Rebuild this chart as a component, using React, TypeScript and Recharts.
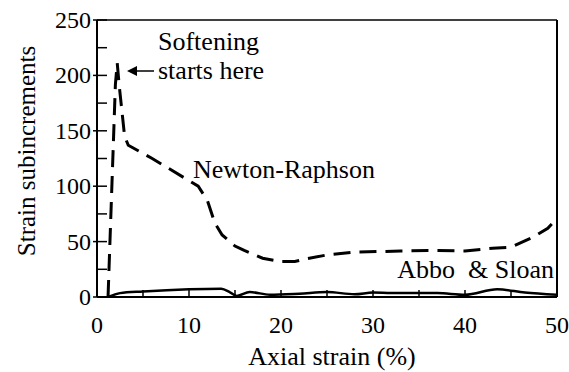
import React from 'react';
import { LineChart, Line, XAxis, YAxis, ReferenceLine } from 'recharts';

// Newton-Raphson (dashed)
const nrStrain = [1.2, 1.7, 2.0, 2.2, 2.4, 3.0, 3.4, 6.0, 10.0, 11.0, 12.0, 12.8, 13.6, 15.0, 16.0, 18.0, 20.0, 21.5, 22.5, 25.0, 28.0, 33.0, 36.0, 40.0, 43.0, 45.0, 47.4, 49.0, 50.0];
const nrIncrements = [0, 120, 192, 211, 192, 145, 137, 125, 105, 100, 87, 67, 56, 46, 42, 35, 32, 32, 34, 38, 40.5, 41.5, 42, 41.5, 44, 45, 54, 62, 71];

// Abbo & Sloan (solid)
const asStrain = [1.2, 2.5, 5.0, 10.0, 13.5, 14.5, 15.2, 16.6, 18.8, 22.0, 25.0, 28.0, 30.0, 32.0, 37.0, 40.0, 43.5, 46.5, 50.0];
const asIncrements = [0, 3.5, 5, 7, 7.5, 4, 1, 4.5, 2, 3, 4.5, 2.5, 4, 3.6, 3.5, 2, 7, 4, 2];

const yTicks = [0, 25, 50, 75, 100, 125, 150, 175, 200, 225, 250];
const xTicks = [0, 5, 10, 15, 20, 25, 30, 35, 40, 45, 50];

const nrData = nrStrain.map((x, i) => ({ x, y: nrIncrements[i] }));
const asData = asStrain.map((x, i) => ({ x, y: asIncrements[i] }));

const FONT = "'Liberation Serif', 'Times New Roman', serif";
const TICK_MARGIN = 5;
const serif = { fontFamily: FONT };

const YTick = (props: any) => {
  const { x, y, payload } = props;
  const ax = x + TICK_MARGIN;
  const major = payload.value % 50 === 0;
  return (
    <g>
      <line x1={major ? ax - 4 : ax} x2={ax + 10} y1={y} y2={y} stroke="#000" strokeWidth={1.5} />
      {major && (
        <text x={x - 1} y={y} dy={8} textAnchor="end" fontSize={24} style={serif} fill="#000">
          {payload.value}
        </text>
      )}
    </g>
  );
};

const XTick = (props: any) => {
  const { x, y, payload } = props;
  const ay = y - TICK_MARGIN;
  const major = payload.value % 10 === 0;
  return (
    <g>
      {payload.value > 0 && payload.value < 50 && (
        <line x1={x} x2={x} y1={ay} y2={ay - 7} stroke="#000" strokeWidth={1.5} />
      )}
      {major && (
        <text x={x} y={y + 31} textAnchor="middle" fontSize={24} style={serif} fill="#000">
          {payload.value}
        </text>
      )}
    </g>
  );
};

const App = () => {
  return (
    <div style={{ position: 'absolute', left: 0, top: 0, width: 569, height: 372, background: '#fff' }}>
      <LineChart width={569} height={372} margin={{ top: 20, right: 12, left: 37, bottom: 35 }}>
        <XAxis
          type="number"
          dataKey="x"
          domain={[0, 50]}
          ticks={xTicks}
          tick={<XTick />}
          tickSize={0}
          tickMargin={TICK_MARGIN}
          tickLine={false}
          height={40}
          stroke="#000"
          strokeWidth={2}
          allowDataOverflow
        />
        <YAxis
          type="number"
          dataKey="y"
          domain={[0, 250]}
          ticks={yTicks}
          tick={<YTick />}
          tickSize={0}
          tickMargin={TICK_MARGIN}
          tickLine={false}
          width={60}
          stroke="#000"
          strokeWidth={2}
          allowDataOverflow
        />
        <ReferenceLine x={50} stroke="#000" strokeWidth={2} />
        <ReferenceLine y={250} stroke="#000" strokeWidth={1.5} />
        <Line
          data={nrData}
          dataKey="y"
          type="linear"
          stroke="#000"
          strokeWidth={3}
          strokeDasharray="17 9"
          dot={false}
          isAnimationActive={false}
        />
        <Line
          data={asData}
          dataKey="y"
          type="monotone"
          stroke="#000"
          strokeWidth={2.5}
          dot={false}
          isAnimationActive={false}
        />
      </LineChart>
      <svg
        width={569}
        height={372}
        style={{ position: 'absolute', left: 0, top: 0, pointerEvents: 'none', fontFamily: FONT }}
        fill="#000"
      >
        <text x={26} y={151} fontSize={25} textAnchor="middle" dominantBaseline="central" transform="rotate(-90 26 151)">
          Strain subincrements
        </text>
        <text x={332} y={365} fontSize={26} textAnchor="middle">
          Axial strain (%)
        </text>
        <text x={158} y={50} fontSize={26}>Softening</text>
        <text x={158} y={79} fontSize={26}>starts here</text>
        <line x1={154} y1={71} x2={134} y2={71} stroke="#000" strokeWidth={1.5} />
        <path d="M127 71 L137 66 L137 76 Z" fill="#000" />
        <text x={193} y={178} fontSize={26}>Newton-Raphson</text>
        <text x={554} y={278} fontSize={26} textAnchor="end" xmlSpace="preserve">Abbo  &amp; Sloan</text>
      </svg>
    </div>
  );
};

export default App;
